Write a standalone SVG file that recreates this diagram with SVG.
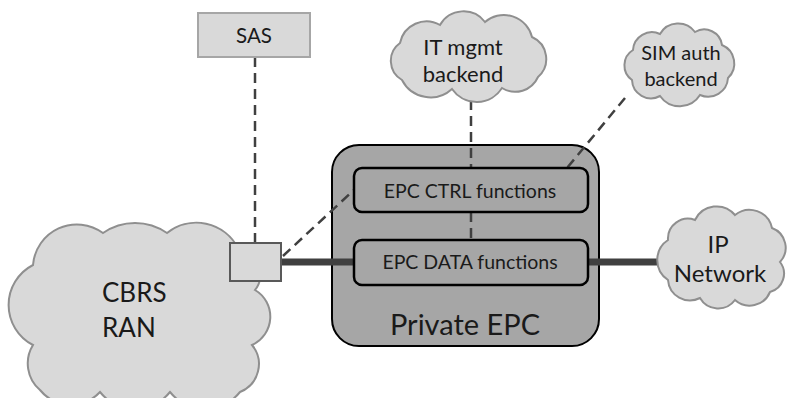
<svg xmlns="http://www.w3.org/2000/svg" width="788" height="398" viewBox="0 0 788 398">
<style>
.bg{fill:#ffffff}
.cloud{fill:#d9d9d9;stroke:#8f8f8f;stroke-width:2}
.box{fill:#a6a6a6;stroke:#000;stroke-width:2.5}
.lbl{font-family:Lato,"Liberation Sans",sans-serif;fill:#1a1a1a;text-anchor:middle}
.dash{fill:none;stroke:#404040;stroke-width:2.5;stroke-dasharray:10 6}
.thick{fill:none;stroke:#404040;stroke-width:7}
</style>
<rect class="bg" x="0" y="0" width="788" height="398"/>

<g id="cbrs-ran">
<path class="cloud" d="M33,265 A44,44 0 0 1 103,233 A56,56 0 0 1 167,233 A47,47 0 0 1 238,248 A26,26 0 0 1 255,290 A31,31 0 0 1 252,345 A30,30 0 0 1 240,392 A45,45 0 0 1 170,392 A45,45 0 0 1 100,392 A40,40 0 0 1 40,390 A35,35 0 0 1 33,345 A45,45 0 0 1 33,265 Z"/>
<text class="lbl" style="text-anchor:start" x="102" y="302" font-size="26">CBRS</text>
<text class="lbl" style="text-anchor:start" x="102" y="337" font-size="26">RAN</text>
</g>

<g id="private-epc">
<rect x="332" y="145" width="267" height="201" rx="27" fill="#a6a6a6" stroke="#000" stroke-width="2"/>
<text class="lbl" x="465" y="335" font-size="29">Private EPC</text>
</g>

<g id="connectors">
<line class="dash" x1="255" y1="57" x2="255" y2="243"/>
<line class="dash" x1="471" y1="100" x2="471" y2="240"/>
<line class="dash" x1="283" y1="256" x2="355" y2="189"/>
<line class="dash" x1="625" y1="98" x2="567" y2="168"/>
<line class="thick" x1="281" y1="262" x2="354" y2="262"/>
<line class="thick" x1="588" y1="262" x2="658" y2="262"/>
</g>

<g id="epc-ctrl">
<rect class="box" x="354" y="168" width="234" height="44" rx="8"/>
<text class="lbl" x="470" y="198" font-size="19.5">EPC CTRL functions</text>
</g>

<g id="epc-data">
<rect class="box" x="354" y="240" width="234" height="45" rx="8"/>
<text class="lbl" x="470" y="269" font-size="19.5">EPC DATA functions</text>
</g>

<g id="sas">
<rect x="198" y="13" width="112" height="44" fill="#d9d9d9" stroke="#a6a6a6" stroke-width="2"/>
<text class="lbl" x="254" y="43" font-size="20.5">SAS</text>
</g>

<g id="it-mgmt">
<path class="cloud" d="M400,43 A27,27 0 0 1 440,25 A27,27 0 0 1 485,22 A29,29 0 0 1 532,37 A24,24 0 0 1 538,77 A25,25 0 0 1 502,88 A30,30 0 0 1 452,89 A32,32 0 0 1 402,80 A22,22 0 0 1 400,43 Z"/>
<text class="lbl" x="463" y="55" font-size="22">IT mgmt</text>
<text class="lbl" x="463" y="82" font-size="22">backend</text>
</g>

<g id="sim-auth">
<path class="cloud" d="M633,50 A19,19 0 0 1 660,34 A21,21 0 0 1 695,32 A18,18 0 0 1 722,45 A20,20 0 0 1 728,78 A20,20 0 0 1 700,95 A24,24 0 0 1 660,96 A19,19 0 0 1 632,80 A18,18 0 0 1 633,50 Z"/>
<text class="lbl" x="681" y="60" font-size="20">SIM auth</text>
<text class="lbl" x="681" y="86" font-size="20">backend</text>
</g>

<g id="ip-network">
<path class="cloud" d="M668,240 A20,20 0 0 1 695,220 A24,24 0 0 1 735,215 A23,23 0 0 1 772,228 A21,21 0 0 1 780,262 A19,19 0 0 1 770,292 A22,22 0 0 1 735,300 A21,21 0 0 1 700,298 A22,22 0 0 1 668,280 A24,24 0 0 1 668,240 Z"/>
<text class="lbl" x="718" y="253" font-size="24">IP</text>
<text class="lbl" x="720" y="282" font-size="24">Network</text>
</g>

<g id="ran-node">
<rect x="230" y="243" width="51" height="38" fill="#d9d9d9" stroke="#595959" stroke-width="2"/>
</g>
</svg>
